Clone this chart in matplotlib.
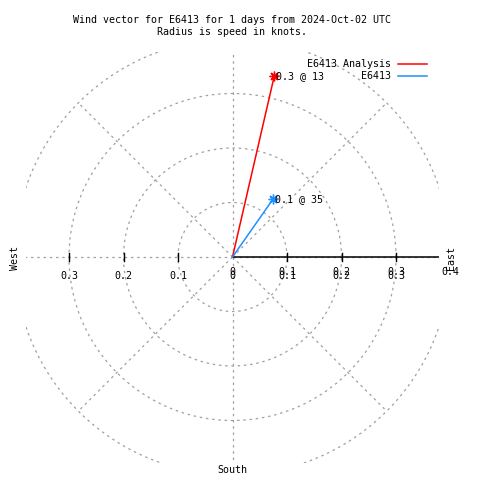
import numpy as np
import matplotlib
matplotlib.use("Agg")
import matplotlib.pyplot as plt

# wind vectors: direction (deg from north, clockwise) and speed (knots)
names = ["E6413 Analysis", "E6413"]
directions = [13, 35]
speeds = [0.34, 0.13]
colors = ["#ff0000", "#1e90ff"]

rings = [0.1, 0.2, 0.3, 0.4]
spokes = [45, 90, 135, 180, 225, 270, 315, 360]
xticks_left = [-0.3, -0.2, -0.1, 0.0, 0.1, 0.2, 0.3]
rticks = [0.0, 0.1, 0.2, 0.3, 0.4]

title = "Wind vector for E6413 for 1 days from 2024-Oct-02 UTC\nRadius is speed in knots."

plt.rcParams['font.family'] = ['DejaVu Sans Mono']
fs = 7.2

fig = plt.figure(figsize=(4.8, 4.8), dpi=100)
W = H = 480.0
x0, x1, y0, y1 = 26, 439, 52, 463  # plot box in pixels
ax = fig.add_axes([x0 / W, 1 - y1 / H, (x1 - x0) / W, (y1 - y0) / H])
scale = 545.0
cx, cy = 232.5, 257.0
ax.set_xlim(-(cx - x0) / scale, (x1 - cx) / scale)
ax.set_ylim(-(y1 - cy) / scale, (cy - y0) / scale)
ax.axis('off')

grid_kw = dict(color='#a0a0a0', lw=0.9, ls=(0, (2, 3)))
t = np.linspace(0, 2 * np.pi, 400)
for r in rings:
    ax.plot(r * np.cos(t), r * np.sin(t), **grid_kw)
for a in spokes:
    th = np.deg2rad(a)
    ax.plot([0, 0.4 * np.cos(th)], [0, 0.4 * np.sin(th)], **grid_kw)

# polar axis (solid, right side) and ticks
ax.plot([0, 1], [0, 0], color='black', lw=1.1)
for v in xticks_left:
    if v != 0:
        ax.plot([v, v], [-0.008, 0.008], color='black', lw=1)

# gnuplot draws the radial tic labels and the x tic labels on top of each other
for v in rticks:
    ax.annotate("%g" % v, (v, 0), xytext=(0, -15), textcoords='offset pixels',
                ha='center', va='center', fontsize=fs, annotation_clip=False)
for v in xticks_left:
    ax.annotate("%g" % abs(v), (v, 0), xytext=(0, -19), textcoords='offset pixels',
                ha='center', va='center', fontsize=fs, annotation_clip=False)

# vectors
for d, s, c, n in zip(directions, speeds, colors, names):
    th = np.deg2rad(d)
    x, y = s * np.sin(th), s * np.cos(th)
    ax.plot([0, x], [0, y], color=c, lw=1.1, clip_on=False)
    ax.plot([x], [y], marker=(8, 2, 0), color=c, ms=7, mew=1.0, clip_on=False)
    ax.annotate("%.1f @ %d" % (s, d), (x, y), xytext=(2, 0), textcoords='offset pixels',
                ha='left', va='center', fontsize=fs, annotation_clip=False)

# legend
for i, (n, c) in enumerate(zip(names, colors)):
    yy = 1 - (64 + 12 * i) / H
    fig.text(391 / W, yy, n, ha='right', va='center', fontsize=fs)
    fig.add_artist(plt.Line2D([398 / W, 427 / W], [yy, yy], color=c, lw=1.1))

fig.text(232 / W, 1 - 26 / H, title, ha='center', va='center', fontsize=fs, linespacing=1.3)
fig.text(15 / W, 1 - 258 / H, "West", rotation=90, ha='center', va='center', fontsize=fs)
fig.text(451 / W, 1 - 258 / H, "East", rotation=90, ha='center', va='center', fontsize=fs)
fig.text(232 / W, 1 - 470 / H, "South", ha='center', va='center', fontsize=fs)

fig.savefig("out.png", dpi=100, facecolor='white')
